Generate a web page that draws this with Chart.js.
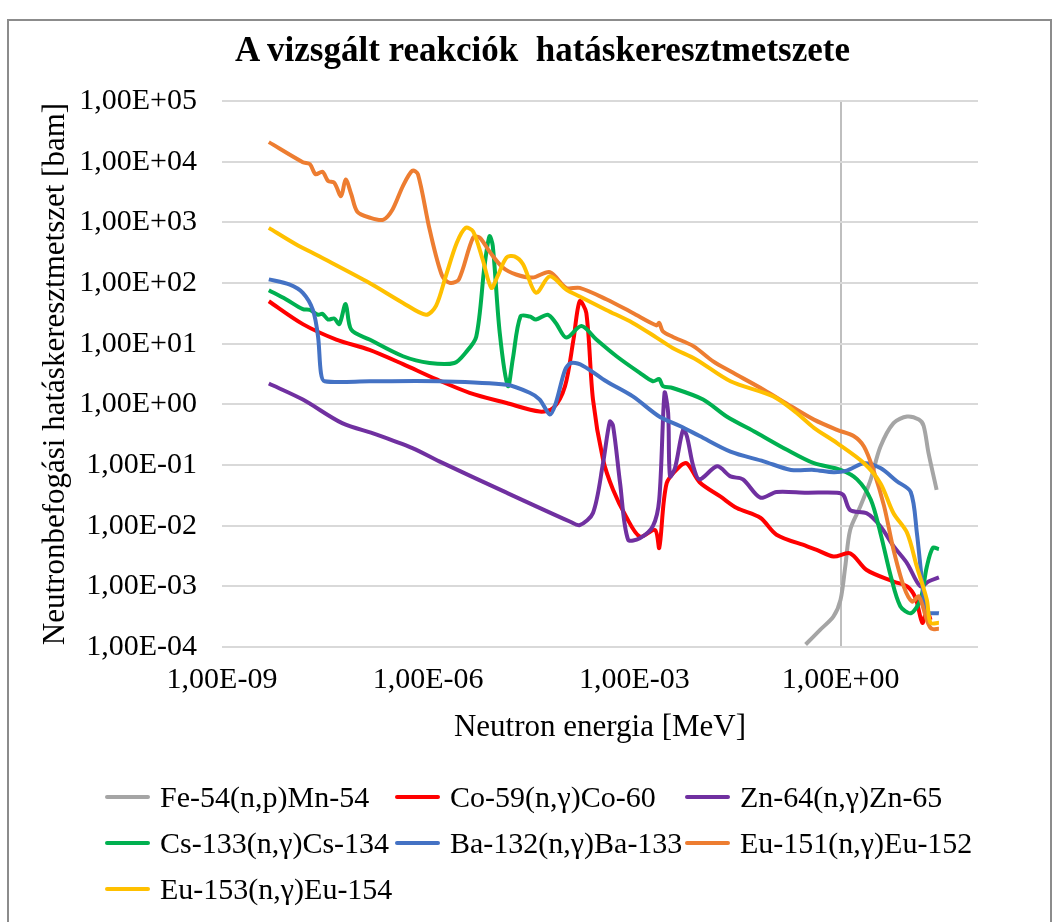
<!DOCTYPE html>
<html>
<head>
<meta charset="utf-8">
<script src="https://cdn.jsdelivr.net/npm/chart.js@4.4.1/dist/chart.umd.min.js"></script>
<style>
  body { margin: 0; background: #fff; }
  #wrap { position: relative; width: 1054px; height: 922px; overflow: hidden; }
  #frame { position: absolute; left: 7px; top: 19px; width: 1045px; height: 930px; border: 2px solid #8c8c8c; box-sizing: border-box; }
  #c { position: absolute; left: 0; top: 0; }
  #title { position: absolute; left: 235px; width: 600px; top: 29px; text-align: center; font-family: "Liberation Serif", "Times New Roman", serif; font-size: 35px; font-weight: bold; line-height: 42px; color: #000; white-space: pre; }
  .leg { position: absolute; font-family: "Liberation Serif", "Times New Roman", serif; font-size: 30px; color: #000; white-space: nowrap; line-height: 30px; height: 30px; }
  .leg i { position: absolute; left: 0; top: 13px; width: 45px; height: 4px; border-radius: 2px; }
  .leg span { display: inline-block; margin-left: 55px; }
</style>
</head>
<body>
<div id="wrap">
  <div id="frame"></div>
  <canvas id="c" width="1054" height="922"></canvas>
  <div id="title">A vizsgált reakciók  hatáskeresztmetszete</div>
  <div id="legend"></div>
</div>
<script>
// energia [MeV] es hataskeresztmetszet [barn] soronkent
const feE = [0.31, 0.5, 0.79, 1.0, 1.17, 1.38, 1.95, 2.75, 3.8, 5.9, 9.3, 13.8, 16.2, 19, 25];
const feXS = [1.1e-4, 1.9e-4, 3.2e-4, 6.0e-4, 2.1e-3, 8.5e-3, 0.021, 0.058, 0.20, 0.49, 0.63, 0.56, 0.44, 0.16, 0.039];

const coE = [4.8e-9, 1.5e-8, 4.6e-8, 1.4e-7, 4.3e-7, 1.3e-6, 4.0e-6, 1.38e-5, 4.2e-5, 6.6e-5, 9.8e-5, 1.3e-4, 1.6e-4, 2.0e-4, 2.5e-4, 3.5e-4, 4.9e-4, 7.6e-4, 1.2e-3, 2.0e-3, 2.3e-3, 2.95e-3, 4.6e-3, 5.8e-3, 8.9e-3, 1.8e-2, 3.1e-2, 6.8e-2, 0.117, 0.32, 0.45, 0.79, 1.38, 2.4, 5.9, 9.3, 12.3, 15.5, 18, 20.4];
const coXS = [50, 21, 11.7, 7.9, 4.6, 2.6, 1.55, 1.05, 0.76, 0.87, 2.0, 11.7, 50, 32, 1.2, 0.123, 0.039, 0.014, 6.6e-3, 8.5e-3, 4.3e-3, 0.05, 0.095, 0.107, 0.052, 0.030, 0.0195, 0.0135, 7.1e-3, 4.6e-3, 4.0e-3, 3.1e-3, 3.5e-3, 1.86e-3, 1.2e-3, 1.0e-3, 6.5e-4, 2.5e-4, 4.1e-4, 2.8e-4];

const znE = [4.8e-9, 1.5e-8, 5.6e-8, 1.74e-7, 5.9e-7, 1.45e-6, 1.38e-5, 1.15e-4, 1.6e-4, 2.5e-4, 3.5e-4, 4.4e-4, 4.9e-4, 6.2e-4, 8.1e-4, 1.2e-3, 1.86e-3, 2.3e-3, 2.75e-3, 3.1e-3, 3.3e-3, 3.9e-3, 5.1e-3, 5.8e-3, 7.2e-3, 8.9e-3, 1.6e-2, 2.5e-2, 3.8e-2, 6.8e-2, 0.117, 0.32, 0.89, 1.1, 1.38, 2.4, 3.8, 5.9, 9.3, 14.5, 19, 27];
const znXS = [2.2, 1.2, 0.49, 0.32, 0.19, 0.115, 0.035, 0.0117, 0.0102, 0.0162, 0.107, 0.52, 0.44, 0.05, 5.9e-3, 6.2e-3, 9.8e-3, 0.027, 1.55, 0.72, 0.065, 0.089, 0.38, 0.30, 0.095, 0.058, 0.095, 0.065, 0.058, 0.029, 0.036, 0.035, 0.035, 0.032, 0.018, 0.016, 9.8e-3, 4.6e-3, 2.4e-3, 1.0e-3, 1.2e-3, 1.4e-3];

const csE = [4.8e-9, 8.5e-9, 1.5e-8, 1.9e-8, 2.5e-8, 2.9e-8, 3.5e-8, 4.3e-8, 5.1e-8, 6.3e-8, 7.6e-8, 1.4e-7, 4.3e-7, 1.05e-6, 2.4e-6, 3.5e-6, 5.0e-6, 6.6e-6, 7.8e-6, 8.7e-6, 1.1e-5, 1.45e-5, 1.7e-5, 2.2e-5, 3.0e-5, 3.7e-5, 5.5e-5, 7.2e-5, 1.02e-4, 1.7e-4, 2.8e-4, 5.5e-4, 1.2e-3, 1.86e-3, 2.3e-3, 2.6e-3, 3.6e-3, 1.0e-2, 2.2e-2, 6.0e-2, 0.166, 0.41, 1.0, 1.74, 2.75, 3.8, 5.4, 7.4, 10.5, 14.5, 18, 22, 27];
const csXS = [76, 54, 37, 36, 30, 31, 25, 26, 21, 45, 17, 11.7, 6.2, 4.8, 4.8, 7.1, 13, 190, 590, 410, 15, 2.0, 5.5, 28, 28, 25, 30, 22, 12.6, 19.5, 11.7, 6.2, 3.3, 2.4, 2.6, 2.0, 1.86, 1.2, 0.63, 0.34, 0.178, 0.107, 0.083, 0.058, 0.027, 7.6e-3, 1.45e-3, 4.7e-4, 3.6e-4, 6.0e-4, 2.1e-3, 4.3e-3, 4.1e-3];

const baE = [4.8e-9, 9.5e-9, 1.5e-8, 2.1e-8, 2.5e-8, 2.75e-8, 3.1e-8, 1.4e-7, 1.45e-6, 1.38e-5, 3.0e-5, 4.2e-5, 5.9e-5, 7.2e-5, 9.8e-5, 1.2e-4, 1.8e-4, 3.9e-4, 9.5e-4, 2.3e-3, 4.6e-3, 8.9e-3, 2.5e-2, 7.6e-2, 0.19, 0.41, 0.79, 1.23, 2.2, 3.8, 6.6, 10.5, 12.9, 15.5, 18, 27];
const baXS = [115, 95, 69, 36, 13, 3.3, 2.4, 2.4, 2.4, 2.1, 1.55, 1.2, 0.68, 1.05, 3.7, 4.8, 4.3, 2.4, 1.35, 0.63, 0.44, 0.30, 0.166, 0.115, 0.083, 0.083, 0.076, 0.081, 0.107, 0.089, 0.054, 0.036, 7.6e-3, 1.1e-3, 3.8e-4, 3.6e-4];

const eu151E = [4.8e-9, 1.5e-8, 1.9e-8, 2.3e-8, 2.9e-8, 3.5e-8, 4.3e-8, 5.4e-8, 6.3e-8, 7.6e-8, 9.3e-8, 1.4e-7, 2.2e-7, 3.0e-7, 4.3e-7, 5.9e-7, 7.1e-7, 1.05e-6, 1.6e-6, 2.1e-6, 2.8e-6, 4.5e-6, 5.6e-6, 7.8e-6, 1.23e-5, 1.9e-5, 3.3e-5, 5.9e-5, 1.02e-4, 1.6e-4, 3.9e-4, 9.5e-4, 2.1e-3, 2.3e-3, 2.6e-3, 3.6e-3, 7.2e-3, 1.4e-2, 2.5e-2, 7.6e-2, 0.19, 0.41, 0.89, 1.55, 2.2, 3.0, 4.3, 5.9, 8.3, 11, 13.8, 18, 21, 27];
const eu151XS = [2.1e4, 9.8e3, 9.1e3, 6.2e3, 6.8e3, 4.8e3, 4.5e3, 2.7e3, 5.1e3, 2.9e3, 1.5e3, 1.2e3, 1.1e3, 1.6e3, 4.0e3, 7.1e3, 6.2e3, 760, 130, 100, 115, 560, 560, 330, 178, 138, 123, 151, 83, 83, 54, 32, 20, 22, 16, 13, 9.1, 5.1, 3.5, 1.74, 0.93, 0.56, 0.38, 0.30, 0.20, 0.083, 0.021, 4.0e-3, 1.0e-3, 5.6e-4, 6.8e-4, 2.8e-4, 2.0e-4, 2.0e-4];

const eu153E = [4.8e-9, 1.17e-8, 2.6e-8, 1.4e-7, 4.3e-7, 9.3e-7, 1.3e-6, 1.8e-6, 2.6e-6, 3.5e-6, 4.5e-6, 6.2e-6, 8.3e-6, 1.02e-5, 1.38e-5, 1.8e-5, 2.4e-5, 3.7e-5, 5.9e-5, 1.02e-4, 1.6e-4, 3.9e-4, 9.5e-4, 2.1e-3, 3.6e-3, 7.9e-3, 2.5e-2, 0.105, 0.23, 0.41, 0.89, 2.2, 3.8, 5.9, 9.3, 12.9, 18, 20.4, 27];
const eu153XS = [810, 440, 275, 100, 47, 30, 42, 129, 457, 810, 710, 245, 83, 129, 263, 275, 204, 69, 129, 78, 60, 36, 22, 12.6, 8.5, 5.5, 2.4, 1.35, 0.72, 0.41, 0.23, 0.107, 0.05, 0.016, 7.6e-3, 2.1e-3, 6.0e-4, 2.5e-4, 2.5e-4];

const seriesNames = ["Fe-54(n,p)Mn-54", "Co-59(n,γ)Co-60", "Zn-64(n,γ)Zn-65", "Cs-133(n,γ)Cs-134", "Ba-132(n,γ)Ba-133", "Eu-151(n,γ)Eu-152", "Eu-153(n,γ)Eu-154"];
const seriesColors = ["#a5a5a5", "#ff0000", "#7030a0", "#00b050", "#4472c4", "#ed7d31", "#ffc000"];
const seriesE = [feE, coE, znE, csE, baE, eu151E, eu153E];
const seriesXS = [feXS, coXS, znXS, csXS, baXS, eu151XS, eu153XS];

const xTicks = [1e-9, 1e-6, 1e-3, 1];
const yTicks = [1e-4, 1e-3, 1e-2, 1e-1, 1, 1e1, 1e2, 1e3, 1e4, 1e5];

// "1,00E-06" forma
function excelSci(v) {
  const e = Math.round(Math.log10(v));
  return "1,00E" + (e < 0 ? "-" : "+") + String(Math.abs(e)).padStart(2, "0");
}

Chart.defaults.font.family = '"Liberation Serif", "Times New Roman", serif';
Chart.defaults.color = "#000";

const datasets = seriesNames.map(function(name, i) {
  return {
    label: name,
    data: seriesE[i].map(function(e, j) { return { x: e, y: seriesXS[i][j] }; }),
    borderColor: seriesColors[i],
    backgroundColor: seriesColors[i],
    borderWidth: 4,
    pointRadius: 0,
    tension: 0.3,
    fill: false,
    order: seriesNames.length - i
  };
});

new Chart(document.getElementById("c"), {
  type: "line",
  data: { datasets: datasets },
  options: {
    responsive: false,
    animation: false,
    layout: { padding: { left: 37, right: 76, top: 101, bottom: 176 } },
    plugins: {
      legend: { display: false },
      tooltip: { enabled: false },
      title: { display: false }
    },
    scales: {
      x: {
        type: "logarithmic",
        min: 1e-9,
        max: 1e2,
        afterBuildTicks: function(s) { s.ticks = xTicks.map(function(v) { return { value: v }; }); },
        afterFit: function(s) { s.height = 99; },
        ticks: { autoSkip: false, maxRotation: 0, padding: 15, font: { size: 30 }, color: "#000",
          callback: function(v) { return excelSci(v); } },
        grid: { drawTicks: false, lineWidth: 2,
          color: function(ctx) { return ctx.tick && ctx.tick.value === 1 ? "#bfbfbf" : "rgba(0,0,0,0)"; } },
        border: { display: false },
        title: { display: true, text: "Neutron energia [MeV]", font: { size: 31 }, color: "#000", padding: 0 }
      },
      y: {
        type: "logarithmic",
        min: 1e-4,
        max: 1e5,
        afterBuildTicks: function(s) { s.ticks = yTicks.map(function(v) { return { value: v }; }); },
        afterFit: function(s) { s.width = 185; },
        ticks: { autoSkip: false, padding: 25, font: { size: 30 }, color: "#000",
          callback: function(v) { return excelSci(v); } },
        grid: { drawTicks: false, lineWidth: 2, color: "#d9d9d9" },
        border: { display: false },
        title: { display: true, text: "Neutronbefogási hatáskeresztmetszet [bam]", font: { size: 31 }, color: "#000", padding: 0 }
      }
    }
  }
});

// jelmagyarazat: 3 oszlop
const legCols = [105, 395, 685];
const legRows = [782, 828, 874];
const legend = document.getElementById("legend");
seriesNames.forEach(function(name, i) {
  const d = document.createElement("div");
  d.className = "leg";
  d.style.left = legCols[i % 3] + "px";
  d.style.top = legRows[Math.floor(i / 3)] + "px";
  d.innerHTML = '<i style="background:' + seriesColors[i] + '"></i><span></span>';
  d.querySelector("span").textContent = name;
  legend.appendChild(d);
});
</script>
</body>
</html>
